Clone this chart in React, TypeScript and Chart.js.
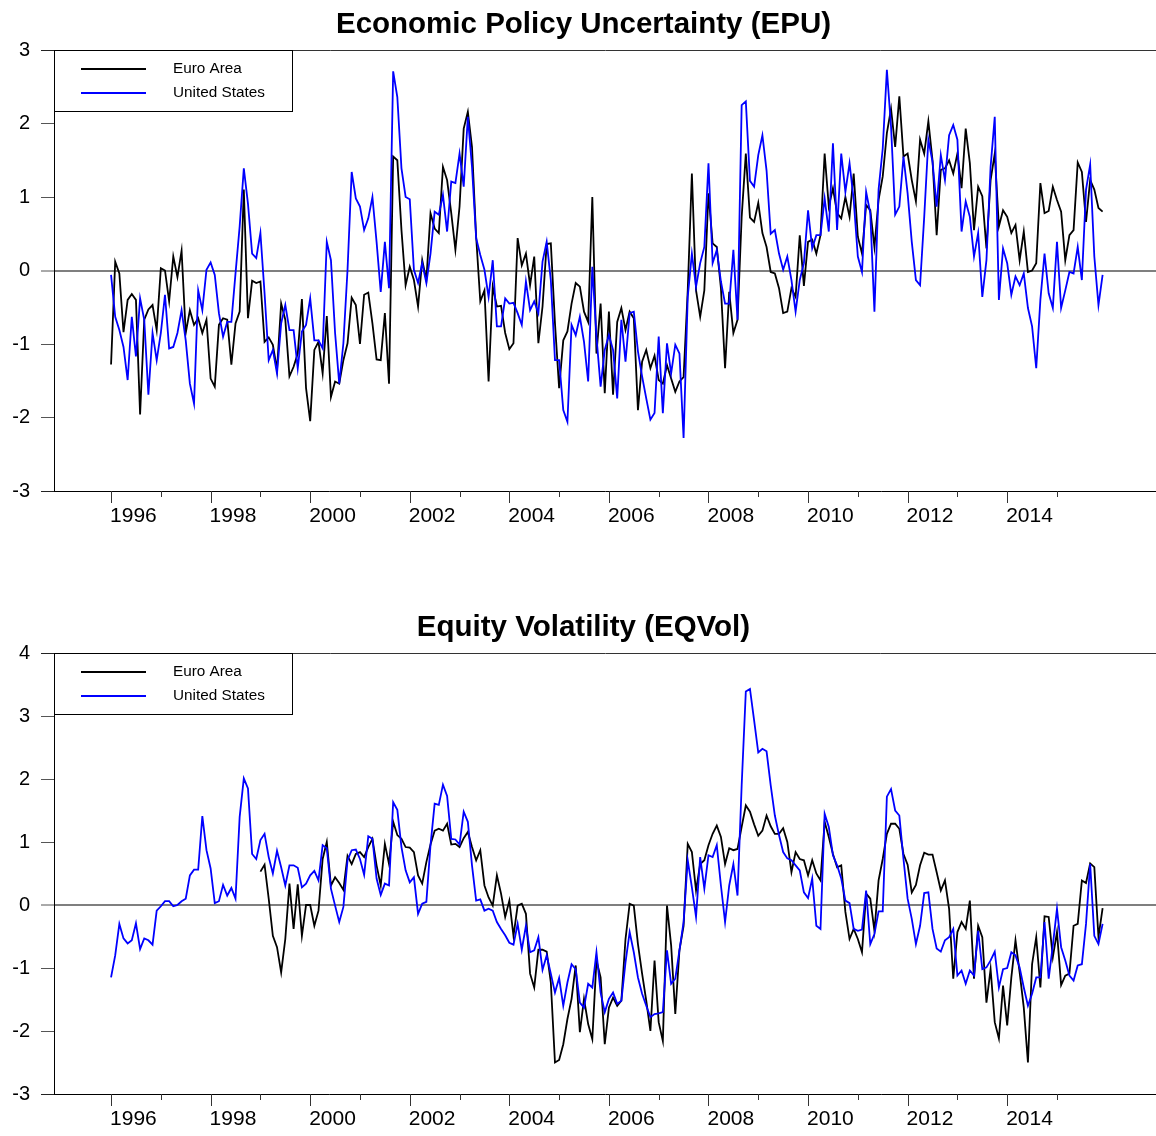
import React, { useEffect, useRef } from "react";
import { Chart, registerables } from "chart.js";

Chart.register(...registerables);

const FONT = '"Liberation Sans", Arial, Helvetica, sans-serif';
const startYear = 1996;
const yearTicks = [1996, 1997, 1998, 1999, 2000, 2001, 2002, 2003, 2004, 2005, 2006, 2007, 2008, 2009, 2010, 2011, 2012, 2013, 2014, 2015];
const legendLabels = ["Euro Area", "United States"];
const titles = ["Economic Policy Uncertainty (EPU)", "Equity Volatility (EQVol)"];

const epuEuro = [
  -1.28, 0.12, -0.04, -0.84, -0.40, -0.32, -0.40, -1.96, -0.67, -0.53,
  -0.47, -0.81, 0.03, 0.00, -0.42, 0.19, -0.09, 0.27, -0.85, -0.54,
  -0.74, -0.65, -0.85, -0.67, -1.47, -1.58, -0.74, -0.65, -0.67, -1.28,
  -0.72, -0.56, 1.10, -0.65, -0.14, -0.17, -0.15, -0.97, -0.91, -1.01,
  -1.35, -0.45, -0.67, -1.44, -1.31, -1.13, -0.39, -1.60, -2.05, -1.08,
  -0.97, -1.40, -0.62, -1.72, -1.51, -1.54, -1.22, -0.99, -0.37, -0.47,
  -1.00, -0.33, -0.30, -0.72, -1.21, -1.22, -0.58, -1.54, 1.55, 1.50,
  0.55, -0.20, 0.05, -0.13, -0.49, 0.14, -0.13, 0.78, 0.57, 0.51,
  1.41, 1.23, 0.78, 0.28, 0.87, 1.93, 2.16, 1.68, 0.46, -0.42,
  -0.27, -1.51, -0.22, -0.49, -0.48, -0.85, -1.07, -0.99, 0.44, 0.07,
  0.23, -0.20, 0.19, -0.99, -0.49, 0.36, 0.37, -0.72, -1.60, -0.95,
  -0.83, -0.45, -0.17, -0.22, -0.56, -0.70, 1.00, -1.13, -0.45, -1.67,
  -0.56, -1.69, -0.70, -0.51, -0.81, -0.56, -0.65, -1.90, -1.24, -1.08,
  -1.33, -1.16, -1.49, -1.54, -1.29, -1.47, -1.65, -1.51, -1.45, -0.27,
  1.32, -0.27, -0.63, -0.27, 1.05, 0.37, 0.32, -0.24, -1.33, -0.29,
  -0.85, -0.67, 0.73, 1.59, 0.72, 0.66, 0.92, 0.51, 0.32, -0.02,
  -0.04, -0.24, -0.58, -0.56, -0.24, -0.36, 0.48, -0.21, 0.39, 0.42,
  0.23, 0.48, 1.59, 0.87, 1.12, 0.78, 0.71, 1.00, 0.73, 1.32,
  0.46, 0.23, 0.89, 0.82, 0.32, 0.96, 1.28, 1.87, 2.20, 1.68,
  2.37, 1.55, 1.59, 1.23, 0.94, 1.78, 1.59, 2.03, 1.50, 0.48,
  1.37, 1.39, 1.50, 1.32, 1.59, 1.12, 1.93, 1.46, 0.55, 1.14,
  1.01, 0.30, 1.23, 1.59, 0.60, 0.82, 0.73, 0.51, 0.62, 0.14,
  0.53, -0.02, 0.00, 0.10, 1.19, 0.78, 0.81, 1.14, 0.96, 0.80,
  0.14, 0.48, 0.55, 1.47, 1.34, 0.66, 1.23, 1.10, 0.85, 0.80,
];

const epuUS = [
  -0.06, -0.63, -0.81, -1.04, -1.49, -0.63, -1.17, -0.38, -0.67, -1.69,
  -0.85, -1.22, -0.85, -0.33, -1.06, -1.04, -0.85, -0.54, -0.95, -1.54,
  -1.81, -0.27, -0.54, 0.01, 0.11, -0.06, -0.58, -0.90, -0.70, -0.70,
  -0.04, 0.60, 1.39, 0.91, 0.23, 0.17, 0.51, -0.31, -1.22, -1.08,
  -1.40, -0.72, -0.47, -0.81, -0.81, -1.33, -0.83, -0.74, -0.38, -0.95,
  -0.95, -1.06, 0.39, 0.14, -0.85, -1.54, -0.99, 0.01, 1.34, 0.98,
  0.87, 0.55, 0.71, 1.00, 0.39, -0.29, 0.39, -0.24, 2.71, 2.36,
  1.39, 1.00, 0.97, 0.01, -0.17, 0.10, -0.17, 0.23, 0.80, 0.76,
  1.03, 0.53, 1.21, 1.19, 1.59, 1.14, 2.09, 1.41, 0.44, 0.21,
  0.01, -0.36, 0.14, -0.76, -0.76, -0.38, -0.45, -0.44, -0.58, -0.74,
  -0.15, -0.54, -0.42, -0.58, 0.12, 0.39, -0.13, -1.22, -1.22, -1.90,
  -2.06, -0.74, -0.88, -0.63, -0.97, -1.51, 0.05, -0.90, -1.58, -1.08,
  -0.88, -1.08, -1.74, -0.67, -1.24, -0.58, -0.56, -1.10, -1.44, -1.74,
  -2.03, -1.94, -0.90, -1.94, -0.99, -1.40, -1.01, -1.13, -2.28, -0.36,
  0.23, -0.22, 0.10, 0.32, 1.46, 0.10, 0.28, -0.15, -0.45, -0.45,
  0.28, -0.67, 2.25, 2.30, 1.22, 1.14, 1.57, 1.84, 1.36, 0.50,
  0.55, 0.23, 0.01, 0.19, -0.13, -0.56, -0.13, 0.10, 0.82, 0.30,
  0.48, 0.48, 0.98, 0.53, 1.73, 0.55, 1.59, 1.07, 1.46, 0.96,
  0.19, -0.02, 1.07, 0.78, -0.56, 1.10, 1.66, 2.73, 1.96, 0.76,
  0.87, 1.55, 1.05, 0.39, -0.13, -0.20, 0.73, 1.78, 1.48, 0.87,
  1.57, 1.23, 1.84, 1.98, 1.78, 0.53, 0.94, 0.73, 0.19, 0.51,
  -0.36, 0.14, 1.41, 2.09, -0.40, 0.30, 0.10, -0.33, -0.08, -0.20,
  -0.04, -0.51, -0.76, -1.33, -0.40, 0.23, -0.31, -0.51, 0.39, -0.51,
  -0.27, -0.02, -0.04, 0.32, -0.13, 1.10, 1.44, 0.19, -0.47, -0.06,
];

const eqvolEuro = [
  null, null, null, null, null, null, null, null, null, null,
  null, null, null, null, null, null, null, null, null, null,
  null, null, null, null, null, null, null, null, null, null,
  null, null, null, null, null, null, 0.53, 0.64, 0.10, -0.49,
  -0.67, -1.07, -0.54, 0.34, -0.38, 0.33, -0.49, 0.00, 0.00, -0.33,
  -0.09, 0.73, 1.00, 0.31, 0.44, 0.35, 0.24, 0.78, 0.65, 0.81,
  0.84, 0.76, 0.92, 1.05, 0.63, 0.31, 0.97, 0.65, 1.32, 1.11,
  1.05, 0.92, 0.91, 0.84, 0.47, 0.34, 0.68, 0.96, 1.18, 1.21,
  1.18, 1.29, 0.96, 0.97, 0.92, 1.06, 1.16, 0.92, 0.71, 0.87,
  0.31, 0.12, -0.01, 0.47, 0.18, -0.19, 0.07, -0.49, -0.01, 0.02,
  -0.14, -1.09, -1.31, -0.71, -0.71, -0.74, -1.23, -2.50, -2.46, -2.21,
  -1.81, -1.49, -0.96, -2.02, -1.49, -1.89, -2.13, -0.88, -1.15, -2.21,
  -1.63, -1.47, -1.60, -1.52, -0.54, 0.02, -0.01, -0.62, -1.09, -1.52,
  -2.00, -0.88, -1.86, -2.16, -0.01, -0.64, -1.73, -0.72, -0.33, 0.97,
  0.84, 0.23, 0.65, 0.71, 0.95, 1.13, 1.26, 1.08, 0.65, 0.90,
  0.87, 0.89, 1.24, 1.58, 1.48, 1.28, 1.10, 1.18, 1.42, 1.25,
  1.13, 1.13, 1.22, 1.00, 0.52, 0.84, 0.73, 0.71, 0.47, 0.71,
  0.50, 0.39, 1.32, 1.08, 0.81, 0.60, 0.63, -0.11, -0.54, -0.38,
  -0.54, -0.75, 0.18, 0.10, -0.41, 0.39, 0.73, 1.13, 1.29, 1.29,
  1.21, 0.81, 0.64, 0.20, 0.32, 0.63, 0.83, 0.80, 0.80, 0.52,
  0.23, 0.39, -0.06, -1.17, -0.43, -0.27, -0.38, 0.07, -1.17, -0.33,
  -0.51, -1.55, -1.02, -1.86, -2.12, -1.28, -1.91, -1.15, -0.56, -1.07,
  -1.63, -2.50, -0.94, -0.51, -1.31, -0.18, -0.19, -0.83, -0.43, -1.27,
  -1.12, -1.09, -0.33, -0.30, 0.39, 0.35, 0.66, 0.60, -0.51, -0.05,
];

const eqvolUS = [
  -1.15, -0.80, -0.30, -0.53, -0.61, -0.56, -0.29, -0.70, -0.53, -0.56,
  -0.63, -0.09, -0.02, 0.06, 0.06, -0.02, 0.00, 0.06, 0.10, 0.47,
  0.56, 0.56, 1.41, 0.87, 0.58, 0.03, 0.06, 0.32, 0.15, 0.27,
  0.10, 1.40, 2.01, 1.85, 0.81, 0.73, 1.03, 1.13, 0.76, 0.50,
  0.86, 0.60, 0.31, 0.63, 0.63, 0.59, 0.28, 0.34, 0.47, 0.54,
  0.39, 0.95, 0.90, 0.26, -0.01, -0.27, -0.03, 0.71, 0.87, 0.88,
  0.73, 0.48, 1.09, 1.05, 0.42, 0.16, 0.34, 0.31, 1.63, 1.51,
  0.92, 0.55, 0.36, 0.44, -0.14, 0.02, 0.05, 0.95, 1.61, 1.59,
  1.91, 1.73, 1.05, 1.04, 0.96, 1.48, 1.32, 0.63, 0.07, 0.09,
  -0.09, -0.06, -0.09, -0.27, -0.38, -0.48, -0.60, -0.63, -0.30, -0.71,
  -0.33, -0.75, -0.72, -0.51, -1.03, -0.80, -1.09, -1.39, -1.16, -1.60,
  -1.23, -0.94, -1.02, -1.55, -1.63, -1.25, -1.31, -0.75, -1.39, -1.70,
  -1.49, -1.39, -1.57, -1.52, -0.91, -0.43, -0.75, -1.15, -1.41, -1.60,
  -1.78, -1.73, -1.72, -1.70, -0.72, -1.25, -1.17, -0.72, -0.27, 0.71,
  0.28, -0.19, 0.76, 0.26, 0.79, 0.76, 0.95, 0.31, -0.27, 0.31,
  0.65, 0.15, 1.90, 3.39, 3.43, 2.93, 2.42, 2.48, 2.44, 1.90,
  1.42, 1.11, 0.84, 0.74, 0.71, 0.63, 0.55, 0.20, 0.11, 0.42,
  -0.33, -0.38, 1.45, 1.24, 0.79, 0.63, 0.42, 0.07, 0.03, -0.38,
  -0.41, -0.39, 0.23, -0.62, -0.46, -0.10, -0.10, 1.72, 1.84, 1.50,
  1.42, 0.73, 0.10, -0.22, -0.62, -0.33, 0.19, 0.20, -0.38, -0.69,
  -0.74, -0.56, -0.51, -0.38, -1.12, -1.04, -1.25, -1.04, -1.12, -0.41,
  -1.02, -0.99, -0.88, -0.74, -1.31, -1.02, -1.00, -0.75, -0.80, -0.99,
  -1.31, -1.60, -1.41, -1.15, -1.15, -0.27, -1.17, -0.64, -0.06, -0.67,
  -0.88, -1.12, -1.20, -0.96, -0.94, -0.30, 0.65, -0.49, -0.62, -0.30,
];

const monthX = (i: number) => startYear + i / 12;

const decorPlugin = {
  id: "decor",
  afterDatasetsDraw(chart: any) {
    const ctx = chart.ctx;
    const { left, top } = chart.chartArea;
    ctx.save();
    ctx.fillStyle = "#ffffff";
    ctx.fillRect(left, top, 238, 61);
    ctx.strokeStyle = "#000000";
    ctx.lineWidth = 1;
    ctx.strokeRect(left + 0.5, top + 0.5, 238, 61);
    const rows = [top + 19, top + 43];
    const cols = ["#000000", "#0000ff"];
    rows.forEach((y, k) => {
      ctx.strokeStyle = cols[k];
      ctx.lineWidth = 1.8;
      ctx.beginPath();
      ctx.moveTo(left + 27, y);
      ctx.lineTo(left + 92, y);
      ctx.stroke();
      ctx.fillStyle = "#000000";
      ctx.font = `15.3px ${FONT}`;
      ctx.textAlign = "left";
      ctx.textBaseline = "middle";
      ctx.fillText(legendLabels[k], left + 119, y - 0.5);
    });
    ctx.restore();
  },
  afterDraw(chart: any, _args: any, opts: any) {
    const ctx = chart.ctx;
    const area = chart.chartArea;
    const xs = chart.scales.x;
    ctx.save();
    ctx.strokeStyle = "#333333";
    ctx.lineWidth = 1;
    yearTicks.forEach((yr) => {
      const px = Math.round(xs.getPixelForValue(yr)) + 0.5;
      const len = yr % 2 === 0 ? 12 : 6;
      ctx.beginPath();
      ctx.moveTo(px, area.bottom);
      ctx.lineTo(px, area.bottom + len);
      ctx.stroke();
    });
    ctx.fillStyle = "#000000";
    ctx.font = `bold 29.5px ${FONT}`;
    ctx.textAlign = "center";
    ctx.textBaseline = "alphabetic";
    ctx.fillText(opts.title, 583.5, 33);
    ctx.restore();
  },
};

type PanelProps = {
  title: string;
  euro: (number | null)[];
  us: number[];
  yMin: number;
  yMax: number;
  top: number;
};

function Panel({ title, euro, us, yMin, yMax, top }: PanelProps) {
  const ref = useRef<HTMLCanvasElement | null>(null);
  useEffect(() => {
    const chart = new Chart(ref.current as HTMLCanvasElement, {
      type: "line",
      data: {
        datasets: [
          {
            label: legendLabels[0],
            data: euro.map((v, i) => ({ x: monthX(i), y: v })) as any,
            borderColor: "#000000",
            borderWidth: 1.8,
            pointRadius: 0,
            tension: 0,
            fill: false,
            order: 1,
          },
          {
            label: legendLabels[1],
            data: us.map((v, i) => ({ x: monthX(i), y: v })) as any,
            borderColor: "#0000ff",
            borderWidth: 1.8,
            pointRadius: 0,
            tension: 0,
            fill: false,
            order: 0,
          },
        ],
      },
      options: {
        responsive: false,
        maintainAspectRatio: false,
        animation: false,
        events: [],
        layout: { padding: { top: 50, left: 0, right: 0, bottom: 0 } },
        plugins: {
          legend: { display: false },
          title: { display: false },
          tooltip: { enabled: false },
          decor: { title },
        } as any,
        scales: {
          x: {
            type: "linear",
            min: 1994.854,
            max: 2016.989,
            afterBuildTicks: (s: any) => {
              s.ticks = yearTicks.map((v) => ({ value: v }));
            },
            afterFit: (s: any) => {
              s.height = 42;
            },
            grid: { display: true, drawOnChartArea: false, drawTicks: false, color: "rgba(0,0,0,0)" },
            border: { display: true, color: "#000000", width: 1 },
            ticks: {
              autoSkip: false,
              maxRotation: 0,
              minRotation: 0,
              align: "start",
              labelOffset: -1,
              padding: 13,
              color: "#000000",
              font: { family: FONT, size: 21 },
              callback: (v: any) => (Number(v) % 2 === 0 ? String(v) : ""),
            },
          },
          y: {
            type: "linear",
            min: yMin,
            max: yMax,
            afterFit: (s: any) => {
              s.width = 54;
            },
            ticks: {
              stepSize: 1,
              padding: 11,
              color: "#000000",
              font: { family: FONT, size: 20 },
              callback: (v: any) => String(v),
            },
            grid: {
              drawTicks: true,
              tickLength: 13,
              tickWidth: 1,
              color: (c: any) =>
                c.tick && c.tick.value === 0 ? "#7f7f7f" : c.tick && c.tick.value === yMax ? "#333333" : "rgba(0,0,0,0)",
              lineWidth: (c: any) => (c.tick && c.tick.value === 0 ? 2 : 1),
              tickColor: (c: any) =>
                c.tick && (c.tick.value === yMax || c.tick.value === yMin) ? "#222222" : "#555555",
            },
            border: { display: true, color: "#000000", width: 1 },
          },
        },
      },
      plugins: [decorPlugin as any],
    });
    return () => chart.destroy();
  }, []);
  return (
    <div style={{ position: "absolute", left: 0, top, width: 1156, height: 533 }}>
      <canvas ref={ref} width={1156} height={533} style={{ display: "block", width: 1156, height: 533 }} />
    </div>
  );
}

export default function App() {
  return (
    <div style={{ position: "absolute", left: 0, top: 0, width: 1156, height: 1136, background: "#ffffff" }}>
      <Panel title={titles[0]} euro={epuEuro} us={epuUS} yMin={-3} yMax={3} top={0} />
      <Panel title={titles[1]} euro={eqvolEuro} us={eqvolUS} yMin={-3} yMax={4} top={603} />
    </div>
  );
}
